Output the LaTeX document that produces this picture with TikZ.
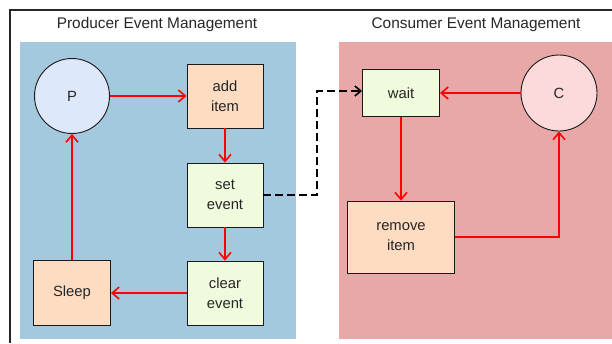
\documentclass[tikz,border=0pt]{standalone}
\usepackage{fontspec}
\setmainfont{Liberation Sans}
\usetikzlibrary{arrows.meta}
\definecolor{prodbg}{HTML}{A4C9DF}
\definecolor{consbg}{HTML}{E8A8A8}
\definecolor{pfill}{HTML}{DDE8FB}
\definecolor{cfill}{HTML}{FDDADA}
\definecolor{peach}{HTML}{FDDCC1}
\definecolor{mint}{HTML}{F0FADD}
\begin{document}
\begin{tikzpicture}[x=1pt, y=-1pt]
\tikzstyle{every node}=[font=\fontsize{14.8}{20}\selectfont, text=black!85, align=center];
\tikzstyle{heading}=[font=\fontsize{15.4}{18}\selectfont];
\tikzstyle{proc}=[draw=black!90, line width=0.9pt, shape=rectangle, minimum width=76pt, minimum height=64pt, inner sep=0pt];
\tikzstyle{actor}=[draw=black!90, line width=0.9pt, shape=circle, minimum size=75pt, inner sep=0pt];
\tikzstyle{flow}=[draw=red, line width=2pt, -{Straight Barb[length=7pt,width=12pt,line width=1.6pt]}];
\tikzstyle{signal}=[draw=black, line width=2pt, dash pattern=on 7.5pt off 4.5pt, -{Straight Barb[length=6pt,width=10pt,line width=1.6pt]}];
\useasboundingbox (0,0) rectangle (612,343);
\draw[black!85, line width=1.2pt] (10,343) -- (10,10) -- (612,10);
\fill[prodbg] (20,42) rectangle (296,339);
\fill[consbg] (339,42) rectangle (612,339);
\path (157,25) node[heading] (ptitle) {Producer Event Management};
\path (476,25) node[heading] (ctitle) {Consumer Event Management};
\path (72,96) node[actor, fill=pfill] (P) {P};
\path (225,96) node[proc, fill=peach] (add) {add\\item};
\path (225,195) node[proc, fill=mint] (set) {set\\event};
\path (225,293) node[proc, fill=mint] (clear) {clear\\event};
\path (72,293) node[proc, fill=peach, minimum width=77pt, minimum height=65pt] (sleep) {Sleep};
\path (401,93) node[proc, fill=mint, minimum width=77pt, minimum height=47pt] (wait) {wait};
\path (559,93) node[actor, fill=cfill, minimum size=76pt] (C) {C};
\path (401,237) node[proc, fill=peach, minimum width=107pt, minimum height=72pt] (remove) {remove\\item};
\coordinate (jog) at (317,195);
\draw[flow] (P) -- (add);
\draw[flow] (add) -- (set);
\draw[flow] (set) -- (clear);
\draw[flow] (clear) -- (sleep);
\draw[flow] (sleep) -- (P);
\draw[flow] (C) -- (wait);
\draw[flow] (wait) -- (remove);
\draw[flow] (remove.east) -| (C.south);
\draw[signal] (set.east) -- (jog) |- ([yshift=2pt]wait.west);
\end{tikzpicture}
\end{document}
